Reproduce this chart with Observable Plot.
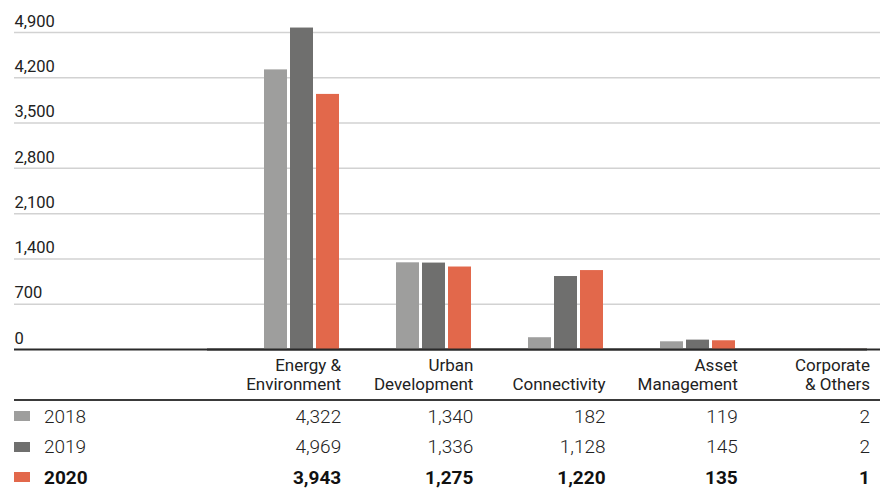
<!DOCTYPE html>
<html><head><meta charset="utf-8">
<script src="https://cdn.jsdelivr.net/npm/d3@7"></script>
<script src="https://cdn.jsdelivr.net/npm/@observablehq/plot@0.6"></script>
<style>
body{margin:0;background:#fff;font-family:Roboto, "Noto Sans", sans-serif;}
#wrap{position:relative;width:880px;height:352px;}
#wrap svg{position:absolute;left:0;top:0;}
#table{position:relative;margin-left:14px;width:866px;}
.row{display:grid;grid-template-columns:195px repeat(5,132.2px) 10px;align-items:center;}
.head{align-items:end;padding-top:4px;padding-bottom:5px;border-bottom:2px solid #3a3a3a;font-size:17px;line-height:19px;color:#222;font-weight:400;}
.head div{text-align:right;white-space:pre-line;}
.body{height:30.5px;font-size:19px;font-weight:300;color:#222;}
.body div{text-align:right;}
.body .lab{text-align:left;display:flex;align-items:center;}
.sw{display:inline-block;width:16px;height:10px;margin-right:14px;}
.bold{font-weight:700;color:#111;}
</style></head><body>
<div id="wrap"></div>
<div id="table"></div>
<script>
const categories = ["Energy &\nEnvironment","Urban\nDevelopment","Connectivity","Asset\nManagement","Corporate\n& Others"];
const years = ["2018","2019","2020"];
const values2018 = [4322,1340,182,119,2];
const values2019 = [4969,1336,1128,145,2];
const values2020 = [3943,1275,1220,135,1];
const yTicks = [0,700,1400,2100,2800,3500,4200,4900];
const colors = ["#9e9e9d","#6f6f6e","#e2684b"];

const series = [values2018, values2019, values2020];
const data = [];
years.forEach((yr,i)=>categories.forEach((c,j)=>data.push({category:c, year:yr, value:series[i][j]})));

const fmt = d3.format(",");
const common = {width:880, height:352, marginTop:32, marginBottom:3,
  y:{domain:[0,4900], axis:null},
  style:{background:"transparent", fontFamily:"Roboto, sans-serif"}};

const grid = Plot.plot({...common, marginLeft:14, marginRight:0,
  marks:[
    Plot.ruleY(yTicks.slice(1), {y:d=>d, stroke:"#d2d2d2", strokeWidth:1.5}),
    Plot.text(yTicks, {y:d=>d, text:d=>fmt(d), frameAnchor:"left", textAnchor:"start", dy:-11, fontSize:16.5, fill:"#222"}),
    Plot.ruleY([0], {stroke:"#2a2a2a", strokeWidth:2})
  ]});

const bars = Plot.plot({...common, marginLeft:206, marginRight:13,
  fx:{domain:categories, padding:0, axis:null},
  x:{domain:years, paddingInner:0.13, paddingOuter:1.06, align:1, axis:null},
  color:{domain:years, range:colors},
  marks:[
    Plot.barY(data, {fx:"category", x:"year", y:"value", fill:"year"}),
    Plot.ruleY([0], {stroke:"#2a2a2a", strokeWidth:2})
  ]});

document.getElementById("wrap").append(grid, bars);

// table / legend
const t = document.getElementById("table");
let html = '<div class="row head"><div></div>' + categories.map(c=>`<div>${c.replace("&","&amp;")}</div>`).join("") + '<div></div></div>';
years.forEach((yr,i)=>{
  const b = i===2 ? " bold" : "";
  html += `<div class="row body${b}"><div class="lab"><span class="sw" style="background:${colors[i]}"></span>${yr}</div>` +
    series[i].map(v=>`<div>${fmt(v)}</div>`).join("") + '<div></div></div>';
});
t.innerHTML = html;
</script>
</body></html>
